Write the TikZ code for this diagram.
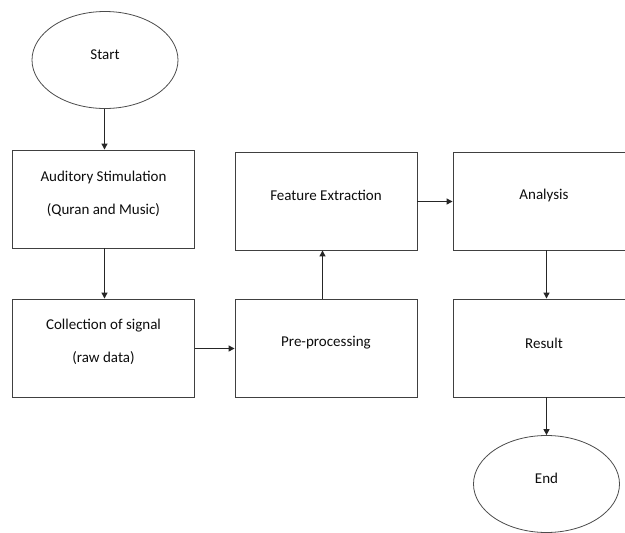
\documentclass[tikz,border=0pt]{standalone}
\usepackage{fontspec}
\setmainfont{Carlito}
\usetikzlibrary{arrows.meta,shapes.geometric}
\begin{document}
\begin{tikzpicture}[x=1pt,y=-1pt,
  boxnode/.style={draw=black!75,line width=0.9pt,rectangle,minimum width=182pt,minimum height=98pt,inner sep=0pt},
  ovalnode/.style={draw=black!70,line width=0.8pt,ellipse,minimum width=146pt,minimum height=97pt,inner sep=0pt},
  txt/.style={font=\fontsize{15}{33}\selectfont,align=center,text=black!95,inner sep=0pt},
  conn/.style={draw=black!85,line width=1.2pt,-{Triangle[length=6pt,width=6pt]}}]
\clip (0,0) rectangle (625,533);
\fill[white] (0,0) rectangle (625,533);
% shapes
\node[ovalnode] (start) at (105,60) {};
\node[boxnode] (b1) at (103.5,199) {};
\node[boxnode] (b2) at (103.5,348) {};
\node[boxnode] (b3) at (326,348) {};
\node[boxnode] (b4) at (326,201) {};
\node[boxnode] (b5) at (544,201) {};
\node[boxnode] (b6) at (544,348) {};
\node[ovalnode] (end) at (546.5,484) {};
% texts
\node[txt] (tstart) at ([yshift=5pt]start.center) {Start};
\node[txt] (t1) at ([yshift=5.5pt]b1.center) {Auditory Stimulation\\(Quran and Music)};
\node[txt] (t2) at ([yshift=6pt]b2.center) {Collection of signal\\(raw data)};
\node[txt] (t3) at ([yshift=5pt]b3.center) {Pre-processing};
\node[txt] (t4) at ([yshift=6pt]b4.center) {Feature Extraction};
\node[txt] (t5) at ([yshift=6pt]b5.center) {Analysis};
\node[txt] (t6) at ([yshift=5pt]b6.center) {Result};
\node[txt] (tend) at ([yshift=6pt]end.center) {End};
% connectors
\draw[conn] ([xshift=-0.5pt]start.south) -- ([xshift=1pt]b1.north);
\draw[conn] ([xshift=1pt]b1.south) -- ([xshift=1pt]b2.north);
\draw[conn] ([yshift=-0.5pt]b2.east) -- ([yshift=-0.5pt]b3.west);
\draw[conn] ([xshift=-3.5pt]b3.north) -- ([xshift=-3.5pt]b4.south);
\draw[conn] ([xshift=2.5pt]b5.south) -- ([xshift=2.5pt]b6.north);
\draw[conn] ([yshift=-0.5pt]b4.east) -- ([yshift=-0.5pt]b5.west);
\draw[conn] ([xshift=2.5pt]b6.south) -- (end.north);
\end{tikzpicture}
\end{document}
